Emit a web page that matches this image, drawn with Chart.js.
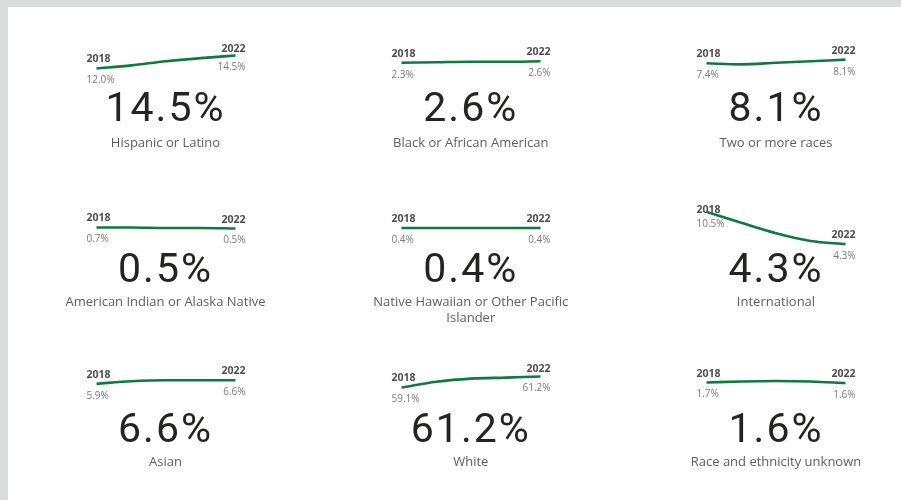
<!DOCTYPE html>
<html>
<head>
<meta charset="utf-8">
<script src="https://cdn.jsdelivr.net/npm/chart.js@4.4.1/dist/chart.umd.min.js"></script>
<style>
  body { margin: 0; width: 901px; height: 500px; overflow: hidden; background: #d9dcdb; position: relative;
         font-family: "Segoe UI", "Open Sans", sans-serif; }
  #page { position: absolute; left: 8px; top: 7px; right: 0; bottom: 0; background: #fff; }
  .spark { position: absolute; }
  .big { position: absolute; width: 300px; text-align: center; font-family: Roboto, sans-serif;
         font-size: 41px; line-height: 48px; color: #252423; letter-spacing: 2px; }
  .lbl { position: absolute; width: 224px; text-align: center; font-size: 13px; line-height: 16px; color: #605e5c; }
</style>
</head>
<body>
<div id="page"></div>
<script>
// share of students by race / ethnicity, 2018-2022
const years = ['2018', '2019', '2020', '2021', '2022'];
const categories = [
  'Hispanic or Latino', 'Black or African American', 'Two or more races',
  'American Indian or Alaska Native', 'Native Hawaiian or Other Pacific Islander', 'International',
  'Asian', 'White', 'Race and ethnicity unknown'
];
const hispanic  = [12.0, 12.6, 13.4, 14.0, 14.5];
const black     = [2.3, 2.4, 2.5, 2.5, 2.6];
const twoOrMore = [7.4, 7.2, 7.5, 7.8, 8.1];
const amIndian  = [0.7, 0.7, 0.6, 0.6, 0.5];
const hawaiian  = [0.4, 0.4, 0.4, 0.4, 0.4];
const intl      = [10.5, 8.4, 6.4, 4.9, 4.3];
const asian     = [5.9, 6.4, 6.6, 6.6, 6.6];
const white     = [59.1, 60.2, 60.8, 61.0, 61.2];
const unknown   = [1.7, 1.9, 2.0, 1.9, 1.6];

const series = [hispanic, black, twoOrMore, amIndian, hawaiian, intl, asian, white, unknown];

// layout
const colX = [165.5, 470.8, 776];
const rowTop = [49, 210, 369];      // highest a year label may sit
const lineMid = [62, 228, 382];     // vertical middle of the sparklines
const bigY = [107, 267.5, 427.5];
const lblY = [143, 302, 462];
const sparkW = 180, areaH = 40, sparkPad = 20.5, sparkBottom = 18;
const pxPerPoint = 5.2;

const fmt = v => v.toFixed(1) + '%';

// year + value labels at both ends of each sparkline
const endLabels = {
  id: 'endLabels',
  afterDatasetsDraw(chart) {
    const ctx = chart.ctx;
    const pts = chart.getDatasetMeta(0).data;
    const vals = chart.data.datasets[0].data;
    const ends = [0, pts.length - 1];
    ctx.save();
    ctx.textBaseline = 'middle';
    ends.forEach(i => {
      const p = pts[i];
      const left = i === 0;
      ctx.textAlign = left ? 'left' : 'right';
      const x = left ? p.x - 10 : p.x + 10;
      ctx.font = 'bold 10.5px "Segoe UI", "Open Sans", sans-serif';
      ctx.fillStyle = '#4f4f4f';
      ctx.fillText(chart.data.labels[i], x, Math.max(p.y - 9, 9));
      ctx.font = '10px "Segoe UI", "Open Sans", sans-serif';
      ctx.fillStyle = '#7a7a7a';
      ctx.fillText(fmt(vals[i]), x, p.y + 12);
    });
    ctx.restore();
  }
};

series.forEach((vals, k) => {
  const c = k % 3, r = Math.floor(k / 3);
  const cx = colX[c];
  const top = rowTop[r] - 9;
  const padTop = lineMid[r] - top - areaH / 2;

  const cv = document.createElement('canvas');
  cv.className = 'spark';
  cv.width = sparkW; cv.height = padTop + areaH + sparkBottom;
  cv.style.left = (cx - sparkW / 2) + 'px';
  cv.style.top = top + 'px';
  document.body.appendChild(cv);

  const mid = (Math.min(...vals) + Math.max(...vals)) / 2;
  const span = areaH / pxPerPoint;

  new Chart(cv, {
    type: 'line',
    data: {
      labels: years,
      datasets: [{
        data: vals,
        borderColor: '#0f7a3b',
        borderWidth: 2.6,
        pointRadius: 0,
        cubicInterpolationMode: 'monotone',
        clip: false
      }]
    },
    options: {
      responsive: false,
      animation: false,
      events: [],
      layout: { padding: { left: sparkPad, right: sparkPad, top: padTop, bottom: sparkBottom } },
      plugins: { legend: { display: false }, tooltip: { enabled: false } },
      scales: {
        x: { display: false, offset: false },
        y: { display: false, min: mid - span / 2, max: mid + span / 2 }
      }
    },
    plugins: [endLabels]
  });

  const big = document.createElement('div');
  big.className = 'big';
  big.textContent = fmt(vals[vals.length - 1]);
  big.style.left = (cx - 150) + 'px';
  big.style.top = (bigY[r] - 24) + 'px';
  document.body.appendChild(big);

  const lbl = document.createElement('div');
  lbl.className = 'lbl';
  lbl.textContent = categories[k];
  lbl.style.left = (cx - 112) + 'px';
  lbl.style.top = (lblY[r] - 9) + 'px';
  document.body.appendChild(lbl);
});
</script>
</body>
</html>
